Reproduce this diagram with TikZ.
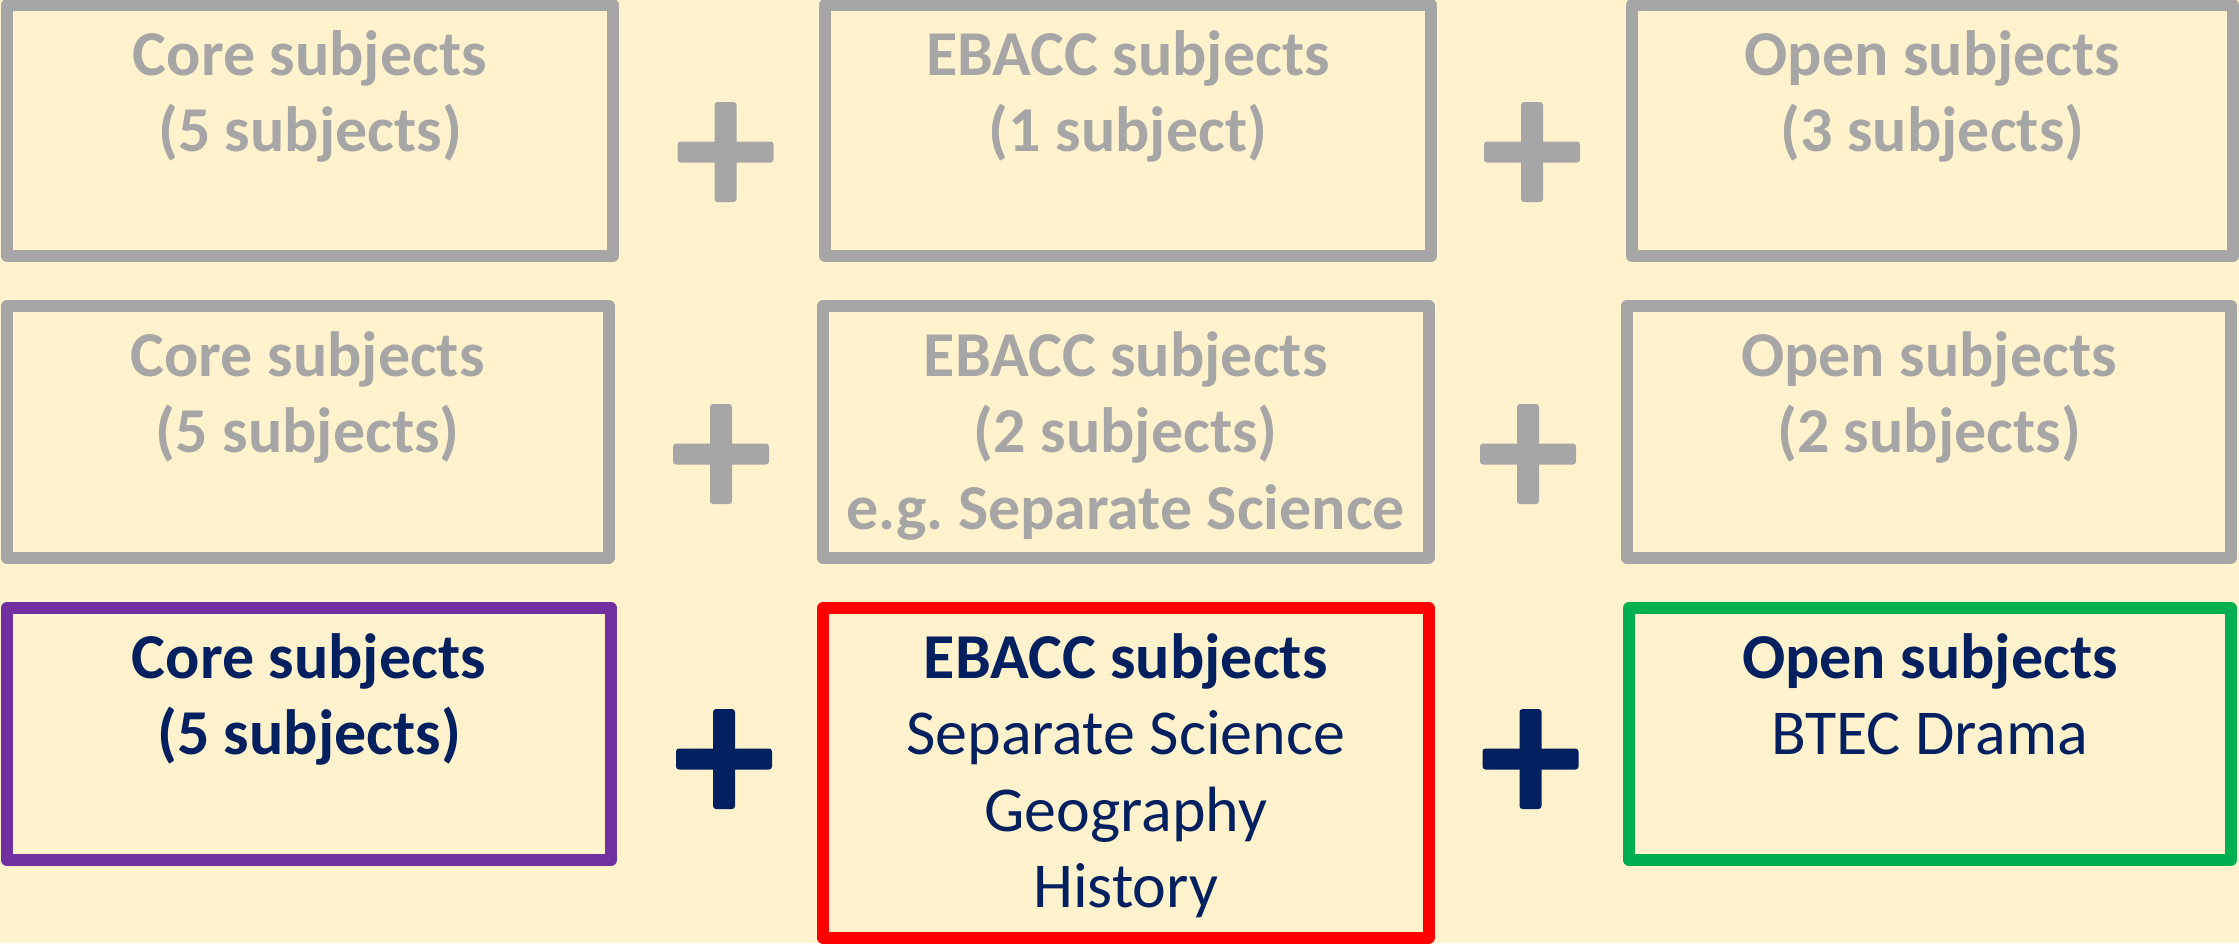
\documentclass[tikz,border=0pt]{standalone}
\usepackage{fontspec}
\setmainfont{Carlito}
\usetikzlibrary{positioning}

\begin{document}
\begin{tikzpicture}[
    box/.style={draw, rectangle, line width=0.12cm, line join=round, inner sep=0pt, outer sep=0pt, minimum width=6.04cm, minimum height=2.51cm},
    boxtext/.style={align=center, inner sep=0pt, execute at begin node=\strut, font=\fontsize{18.2pt}{21.8pt}\selectfont},
    greytext/.style={boxtext, text=greyline, font=\fontsize{18.2pt}{21.8pt}\selectfont\bfseries},
    navytext/.style={boxtext, text=navy}
]

% Define colors
\definecolor{paper}{HTML}{FFF2CC}
\definecolor{greyline}{HTML}{A6A6A6}
\definecolor{navy}{HTML}{002060}
\definecolor{corepurple}{HTML}{7030A0}
\definecolor{ebaccred}{HTML}{FF0000}
\definecolor{opengreen}{HTML}{00B050}

% Background
\fill[paper] (0,0) rectangle (22.39,-9.43);
\useasboundingbox (0,0) rectangle (22.39,-9.43);

% First route - 5 + 1 + 3
\node[box, greyline, minimum width=6.06cm] (core1) at (3.10,-1.305) {};
\node[box, greyline, minimum width=6.06cm] (ebacc1) at (11.28,-1.305) {};
\node[box, greyline, minimum width=6.01cm] (open1) at (19.325,-1.305) {};
\node[greytext, below=0.245cm of core1.north] (core1text) {Core subjects\\(5 subjects)};
\node[greytext, below=0.245cm of ebacc1.north] (ebacc1text) {EBACC subjects\\(1 subject)};
\node[greytext, below=0.245cm of open1.north] (open1text) {Open subjects\\(3 subjects)};

% Second route - 5 + 2 + 2
\node[box, greyline, minimum width=6.015cm, minimum height=2.515cm] (core2) at (3.0775,-4.3175) {};
\node[box, greyline, minimum width=6.055cm, minimum height=2.515cm] (ebacc2) at (11.2575,-4.3175) {};
\node[box, greyline, minimum height=2.515cm] (open2) at (19.29,-4.3175) {};
\node[greytext, below=0.245cm of core2.north] (core2text) {Core subjects\\(5 subjects)};
\node[greytext, below=0.245cm of ebacc2.north] (ebacc2text) {EBACC subjects\\(2 subjects)\\e.g.\ Separate Science};
\node[greytext, below=0.245cm of open2.north] (open2text) {Open subjects\\(2 subjects)};

% Chosen route - coloured boxes
\node[box, corepurple, minimum height=2.52cm] (core3) at (3.09,-7.34) {};
\node[box, ebaccred, minimum width=6.055cm, minimum height=3.295cm] (ebacc3) at (11.2575,-7.7275) {};
\node[box, opengreen, minimum width=6.02cm, minimum height=2.52cm] (open3) at (19.30,-7.34) {};
\node[navytext, below=0.245cm of core3.north] (core3text) {\textbf{Core subjects}\\\textbf{(5 subjects)}};
\node[navytext, below=0.245cm of ebacc3.north] (ebacc3text) {\textbf{EBACC subjects}\\Separate Science\\Geography\\History};
\node[navytext, below=0.245cm of open3.north] (open3text) {\textbf{Open subjects}\\BTEC Drama};

% Plus signs
\foreach \px/\py/\col in {7.255/-1.52/greyline, 15.32/-1.52/greyline,
                          7.21/-4.54/greyline, 15.28/-4.54/greyline,
                          7.24/-7.59/navy, 15.305/-7.59/navy} {
    \fill[\col, rounded corners=0.03cm] (\px-0.48,\py-0.105) rectangle (\px+0.48,\py+0.105);
    \fill[\col, rounded corners=0.03cm] (\px-0.11,\py-0.50) rectangle (\px+0.11,\py+0.50);
}

\end{tikzpicture}
\end{document}
